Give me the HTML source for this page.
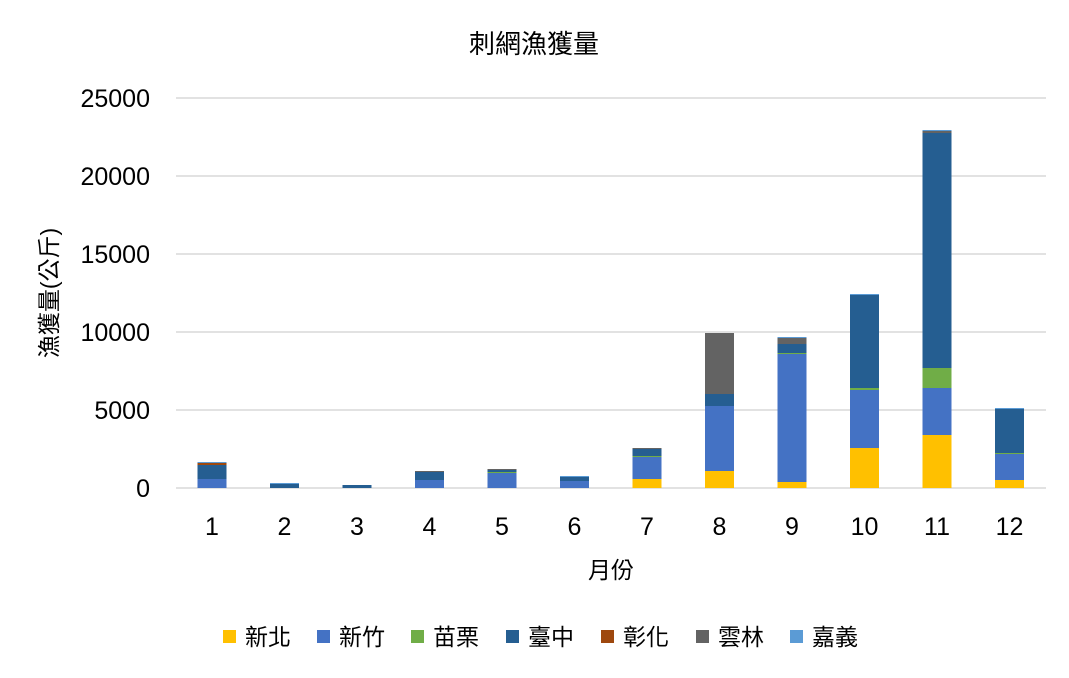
<!DOCTYPE html>
<html><head><meta charset="utf-8"><style>
html,body{margin:0;padding:0;background:#fff;}
svg text{font-family:"Liberation Sans","Noto Sans CJK TC",sans-serif;fill:#000;}
</style></head><body>
<svg id="c" width="1069" height="673" xmlns="http://www.w3.org/2000/svg">
<rect width="1069" height="673" fill="#fff"/>
<text x="534" y="53" font-size="26" text-anchor="middle">刺網漁獲量</text>
<g stroke="#d9d9d9" stroke-width="1.5">
<line x1="176" x2="1046" y1="98" y2="98"/><line x1="176" x2="1046" y1="176" y2="176"/>
<line x1="176" x2="1046" y1="254" y2="254"/><line x1="176" x2="1046" y1="332" y2="332"/>
<line x1="176" x2="1046" y1="410" y2="410"/><line x1="176" x2="1046" y1="488" y2="488"/>
</g>
<g font-size="25" text-anchor="end">
<text x="150" y="107">25000</text><text x="150" y="185">20000</text><text x="150" y="263">15000</text>
<text x="150" y="341">10000</text><text x="150" y="419">5000</text><text x="150" y="497">0</text>
</g>
<text transform="translate(57,293) rotate(-90)" font-size="23" text-anchor="middle">漁獲量(公斤)</text>
<text x="611" y="578" font-size="23" text-anchor="middle">月份</text>
<g id="bars"></g>
<g id="xl" font-size="25" text-anchor="middle"></g>
<g font-size="23">
<rect x="223" y="630" width="13" height="13" fill="#ffc000"/><text x="245" y="645">新北</text>
<rect x="317" y="630" width="13" height="13" fill="#4472c4"/><text x="339" y="645">新竹</text>
<rect x="411" y="630" width="13" height="13" fill="#70ad47"/><text x="433" y="645">苗栗</text>
<rect x="506" y="630" width="13" height="13" fill="#255e91"/><text x="528" y="645">臺中</text>
<rect x="601" y="630" width="13" height="13" fill="#9e480e"/><text x="623" y="645">彰化</text>
<rect x="696" y="630" width="13" height="13" fill="#636363"/><text x="718" y="645">雲林</text>
<rect x="790" y="630" width="13" height="13" fill="#5b9bd5"/><text x="812" y="645">嘉義</text>
</g>
</svg>
<script>
var C={y:"#ffc000",b:"#4472c4",g:"#70ad47",d:"#255e91",o:"#9e480e",s:"#636363",l:"#5b9bd5"};
var D=[
[["b",479],["d",465],["o",463],["l",462]],
[["d",484],["l",483]],
[["d",485]],
[["b",480],["d",472],["s",471]],
[["b",473],["g",472],["d",470],["s",469]],
[["b",481],["d",477],["l",476]],
[["y",479],["b",457],["g",456],["d",449],["s",448]],
[["y",471],["b",406],["d",394],["s",333]],
[["y",482],["b",354],["g",353],["d",344],["s",338],["l",337]],
[["y",448],["b",390],["g",388],["d",295],["l",294]],
[["y",435],["b",388],["g",368],["d",133],["s",131],["l",130]],
[["y",480],["b",454],["g",453],["d",409],["l",408]]];
var ns="http://www.w3.org/2000/svg",g=document.getElementById("bars"),xl=document.getElementById("xl");
D.forEach(function(m,i){var cx=212+i*72.5,prev=488;
m.forEach(function(s){var r=document.createElementNS(ns,"rect");r.setAttribute("x",cx-14.5);r.setAttribute("width",29);
r.setAttribute("y",s[1]);r.setAttribute("height",prev-s[1]);r.setAttribute("fill",C[s[0]]);g.appendChild(r);prev=s[1];});
var t=document.createElementNS(ns,"text");t.setAttribute("x",cx);t.setAttribute("y",535);t.textContent=i+1;xl.appendChild(t);});
</script>
</body></html>
